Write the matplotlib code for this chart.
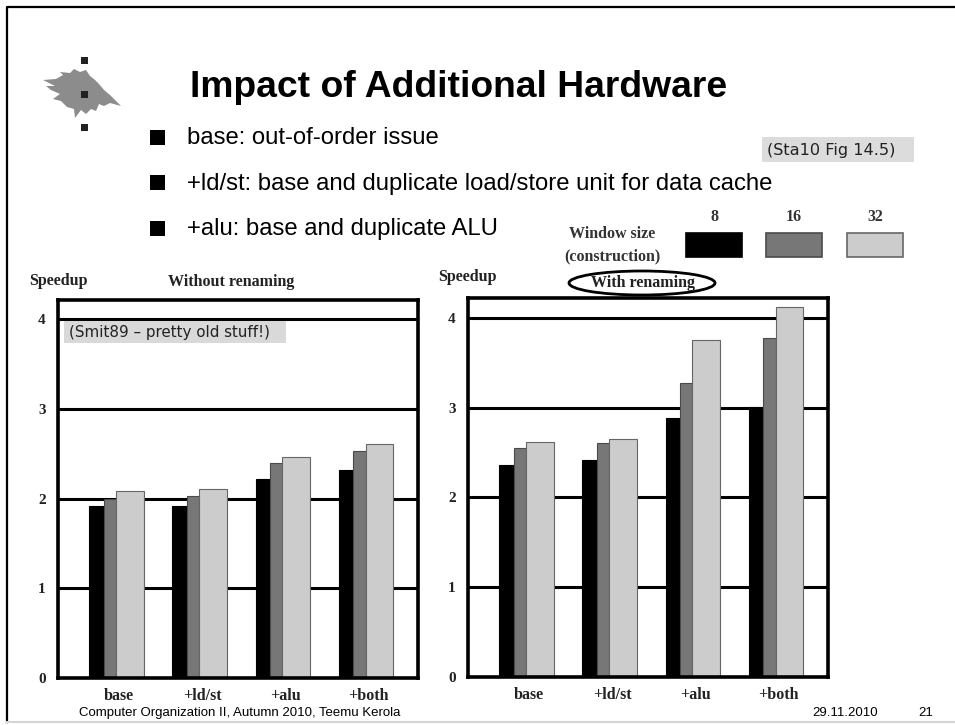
import matplotlib
matplotlib.use('Agg')
import matplotlib.pyplot as plt
from matplotlib.patches import Rectangle, Ellipse, Polygon

categories = ['base', '+ld/st', '+alu', '+both']
window_sizes = ['8', '16', '32']

# speedup without renaming, window 8 / 16 / 32
plain_8 = [1.92, 1.92, 2.22, 2.32]
plain_16 = [2.00, 2.03, 2.40, 2.53]
plain_32 = [2.08, 2.11, 2.46, 2.61]

# speedup with renaming
ren_8 = [2.36, 2.42, 2.88, 3.01]
ren_16 = [2.55, 2.61, 3.27, 3.78]
ren_32 = [2.62, 2.65, 3.75, 4.12]

bar_colors = ['#000000', '#777777', '#cccccc']
edge_colors = ['#000000', '#4a4a4a', '#666666']
offsets = [0.0, 0.175, 0.32]
widths = [0.175, 0.145, 0.335]

W, H = 955, 725
fig = plt.figure(figsize=(W / 100, H / 100), dpi=100)
fig.patch.set_facecolor('white')

serif = 'Liberation Serif'
sans = 'Liberation Sans'
boxfont = 'DejaVu Sans'


def chart(rect, series, ymax):
    ax = fig.add_axes(rect)
    for v in [1, 2, 3, 4]:
        ax.axhline(v, color='black', lw=2.2, zorder=1)
    x = list(range(len(categories)))
    for vals, off, w, c, ec in zip(series, offsets, widths, bar_colors, edge_colors):
        ax.bar([i + off for i in x], vals, width=w, align='edge', color=c,
               edgecolor=ec, linewidth=0.8, zorder=2)
    ax.set_xlim(-0.372, 3.95)
    ax.set_ylim(0, ymax)
    ax.set_xticks([i + 0.36 for i in x])
    ax.set_xticklabels(categories, family=serif, fontweight='bold', fontsize=11.5,
                       color='#222222')
    ax.set_yticks([0, 1, 2, 3, 4])
    ax.set_yticklabels(['0', '1', '2', '3', '4'], family=serif, fontweight='bold',
                       fontsize=11, color='#222222')
    ax.tick_params(length=0, pad=7)
    ax.tick_params(axis='y', pad=9)
    for s in ax.spines.values():
        s.set_linewidth(2.6)
        s.set_zorder(3)
    return ax


chart([58 / W, 47 / H, 360 / W, 378 / H], [plain_8, plain_16, plain_32], 4.214)
chart([468 / W, 48 / H, 360 / W, 379 / H], [ren_8, ren_16, ren_32], 4.22)

# overlay in pixel coordinates for the slide decoration
ov = fig.add_axes([0, 0, 1, 1])
ov.set_xlim(0, W)
ov.set_ylim(H, 0)
ov.set_axis_off()

# slide border
ov.plot([7, 7, W], [722, 7, 7], color='black', lw=1.6)
ov.plot([7, W], [722, 722], color='#d4d4d4', lw=1.5)

# logo
flame = [(43, 80), (56, 79), (63, 75), (60, 72), (70, 73), (74, 69), (80, 72), (86, 70),
         (90, 76), (95, 80), (99, 84), (104, 90), (110, 95), (121, 106), (110, 103),
         (104, 106), (99, 104), (96, 111), (91, 109), (86, 114), (81, 110), (75, 118),
         (74, 109), (67, 107), (61, 101), (53, 99), (60, 94), (51, 90), (46, 86), (55, 86)]
ov.add_patch(Polygon(flame, closed=True, facecolor='#8c8c8c', edgecolor='none'))
for yy in [60, 94, 127]:
    ov.add_patch(Rectangle((81, yy - 3), 6.5, 6.5, facecolor='#222222', edgecolor='none'))

ov.text(190, 97, 'Impact of Additional Hardware', family=sans, fontweight='bold',
        fontsize=26.8, va='baseline', ha='left')

bullets = ['base: out-of-order issue',
           '+ld/st: base and duplicate load/store unit for data cache',
           '+alu: base and duplicate ALU']
for k, b in enumerate(bullets):
    yb = 137 + k * 45.5
    ov.add_patch(Rectangle((150, yb - 7.5), 15, 15, facecolor='black', edgecolor='none'))
    ov.text(187, yb + 7, b, family=sans, fontsize=17.2, va='baseline', ha='left')

# source notes
ov.add_patch(Rectangle((762, 137), 152, 25, facecolor='#dcdcdc', edgecolor='none'))
ov.text(767, 155, '(Sta10 Fig 14.5)', family=boxfont, fontsize=11.6, va='baseline',
        color='#222222')
ov.add_patch(Rectangle((64, 321), 222, 22, facecolor='#d9d9d9', edgecolor='none'))
ov.text(69, 337, '(Smit89 \u2013 pretty old stuff!)', family=boxfont, fontsize=10.9,
        va='baseline', color='#222222')

# legend
ov.text(612, 234, 'Window size', family=serif, fontweight='bold', fontsize=11.5,
        ha='center', va='center', color='#333333')
ov.text(612, 256, '(construction)', family=serif, fontweight='bold', fontsize=11.5,
        ha='center', va='center', color='#333333')
lx = [686, 766, 847]
for x0, lab, c, ec in zip(lx, window_sizes, bar_colors, edge_colors):
    ov.add_patch(Rectangle((x0, 233), 56, 24, facecolor=c, edgecolor=ec, lw=1.2))
    ov.text(x0 + 28, 217, lab, family=serif, fontweight='bold', fontsize=11.5,
            ha='center', va='center', color='#333333')

# chart headings
ov.text(58, 281, 'Speedup', family=serif, fontweight='bold', fontsize=11.5,
        ha='center', va='center', color='#222222')
ov.text(231, 282, 'Without renaming', family=serif, fontweight='bold', fontsize=11.5,
        ha='center', va='center', color='#222222')
ov.text(467, 277, 'Speedup', family=serif, fontweight='bold', fontsize=11.5,
        ha='center', va='center', color='#222222')
ov.text(643, 283, 'With renaming', family=serif, fontweight='bold', fontsize=11.5,
        ha='center', va='center', color='#222222')
ov.add_patch(Ellipse((642, 283), 146, 24, facecolor='none', edgecolor='black', lw=2))

# footer
ov.text(79, 713, 'Computer Organization II, Autumn 2010, Teemu Kerola', family=sans,
        fontsize=9.5, va='center', ha='left')
ov.text(812, 713, '29.11.2010', family=sans, fontsize=9.5, va='center', ha='left')
ov.text(918, 713, '21', family=sans, fontsize=9.5, va='center', ha='left')

fig.savefig('out.png', dpi=100)
